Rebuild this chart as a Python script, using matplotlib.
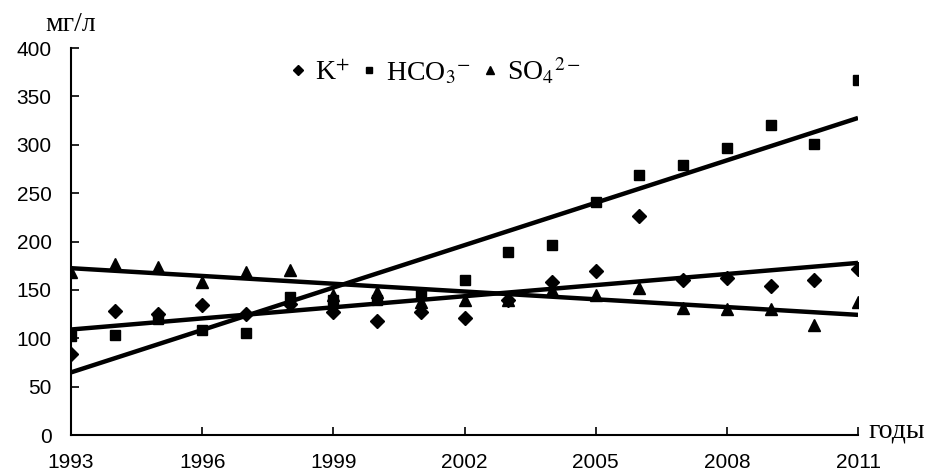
import numpy as np
import matplotlib
matplotlib.use("Agg")
import matplotlib.pyplot as plt
from matplotlib.lines import Line2D

years = list(range(1993, 2012))
k_plus = [84, 128, 125, 134, 125, 135, 127, 118, 127, 121, 140, 158, 170, 226, 160, 162, 154, 160, 172]
hco3 = [102, 103, 120, 109, 105, 143, 140, 140, 147, 160, 189, 196, 241, 269, 279, 297, 320, 301, 367]
so4 = [169, 177, 174, 158, 169, 171, 145, 148, 138, 140, 140, 150, 145, 152, 131, 130, 130, 114, 137]

y_ticks = [0, 50, 100, 150, 200, 250, 300, 350, 400]
x_ticks = [1993, 1996, 1999, 2002, 2005, 2008, 2011]

plt.rcParams['mathtext.fontset'] = 'stix'

fig = plt.figure(figsize=(9.4, 4.73), dpi=100)
ax = fig.add_axes([0.0755, 0.0803, 0.8373, 0.8182])

x = np.array(years, dtype=float)
series = [(k_plus, 'D', 7), (hco3, 's', 7), (so4, '^', 8.5)]
for vals, m, ms in series:
    v = np.array(vals, dtype=float)
    ax.plot(x, v, linestyle='none', marker=m, markersize=ms, color='black', zorder=3)
    p = np.polyfit(x, v, 1)
    ax.plot([x[0], x[-1]], np.polyval(p, [x[0], x[-1]]), color='black', lw=3.2, zorder=2,
            solid_capstyle='butt')

ax.set_xlim(1993, 2011)
ax.set_ylim(0, 400)
ax.set_xticks(x_ticks)
ax.set_yticks(y_ticks)
ax.spines['top'].set_visible(False)
ax.spines['right'].set_visible(False)
for s in ('left', 'bottom'):
    ax.spines[s].set_linewidth(1.5)
ax.tick_params(direction='in', length=6, width=1.2, labelsize=15)
for lab in ax.get_xticklabels() + ax.get_yticklabels():
    lab.set_family('Liberation Sans')
ax.tick_params(axis='y', pad=14)
ax.tick_params(axis='x', pad=13)

fig.text(0.048, 0.948, 'мг/л', family='Liberation Serif', fontsize=20, ha='left', va='center')
fig.text(0.924, 0.088, 'годы', family='Liberation Serif', fontsize=20, ha='left', va='center')

handles = [Line2D([], [], ls='none', marker='D', ms=5, color='black'),
           Line2D([], [], ls='none', marker='s', ms=5, color='black'),
           Line2D([], [], ls='none', marker='^', ms=6, color='black')]
labels = [r'K$^{+}$', r'HCO$_{3}$$^{-}$', r'SO$_{4}$$^{2-}$']
leg = fig.legend(handles, labels, loc='center', bbox_to_anchor=(0.463, 0.85), ncol=3,
                 frameon=False, handlelength=0.6, handletextpad=0.3, columnspacing=0.4,
                 prop={'family': 'Liberation Serif', 'size': 20})

fig.savefig('out.png', dpi=100)
